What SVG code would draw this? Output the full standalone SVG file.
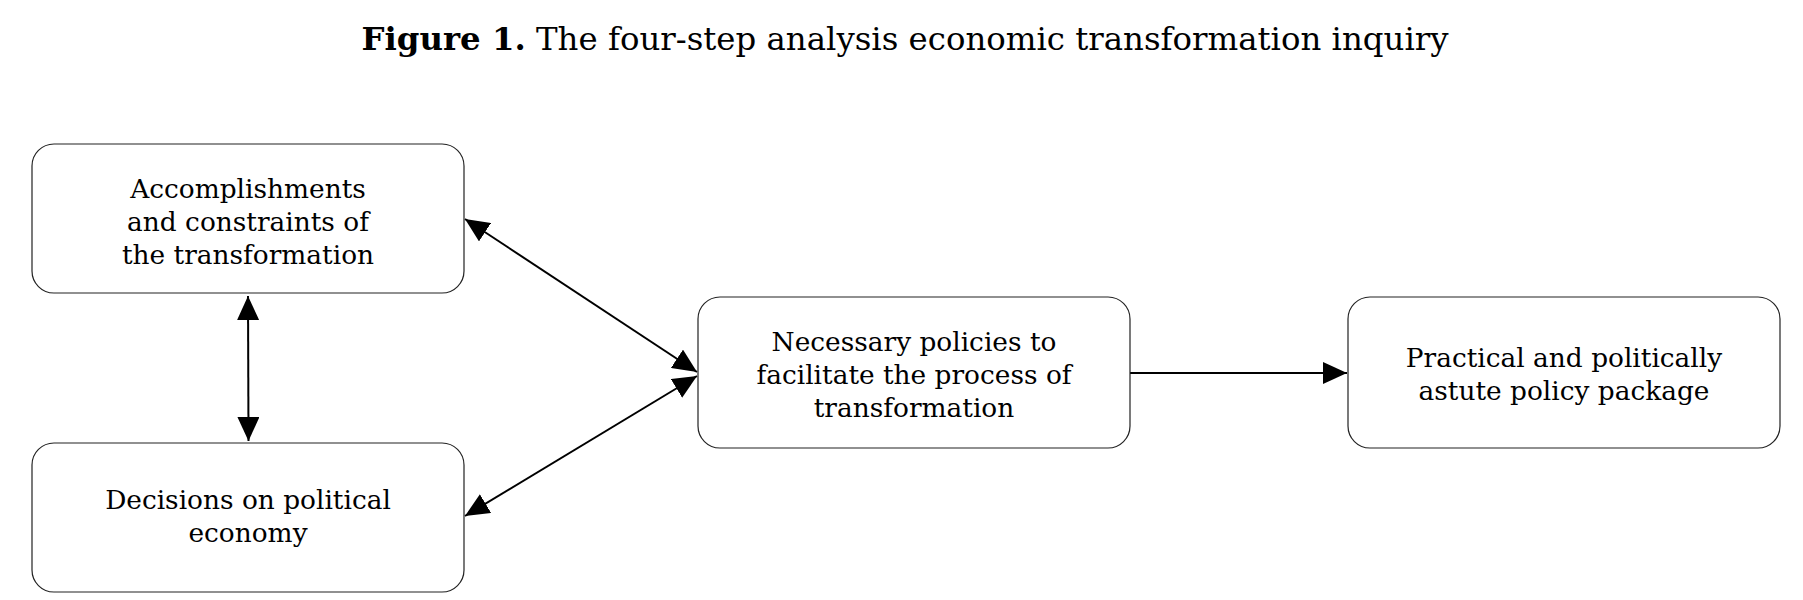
<svg xmlns="http://www.w3.org/2000/svg" width="1803" height="600" viewBox="0 0 1803 600">
<style>
.box{fill:#fff;stroke:#222;stroke-width:1.2}
.t{font-family:"DejaVu Serif","Liberation Serif",serif;font-size:26.4px;fill:#000;text-anchor:middle}
.title{font-family:"DejaVu Serif","Liberation Serif",serif;font-size:32.4px;fill:#000;text-anchor:middle}
.c{stroke:#000;stroke-width:2;fill:none}
</style>
<defs>
<marker id="ah" viewBox="0 0 24 22" refX="24" refY="11" markerWidth="24" markerHeight="22" markerUnits="userSpaceOnUse" orient="auto-start-reverse">
<path d="M0,0 L24,11 L0,22 z" fill="#000"/>
</marker>
</defs>
<rect width="1803" height="600" fill="#fff"/>
<text class="title" x="905" y="50"><tspan font-weight="bold">Figure 1.</tspan> The four-step analysis economic transformation inquiry</text>
<g id="connectors">
<line class="c" x1="248" y1="296" x2="248.5" y2="441" marker-start="url(#ah)" marker-end="url(#ah)"/>
<line class="c" x1="465" y1="219" x2="697" y2="372" marker-start="url(#ah)" marker-end="url(#ah)"/>
<line class="c" x1="465" y1="516" x2="697" y2="376" marker-start="url(#ah)" marker-end="url(#ah)"/>
<line class="c" x1="1130" y1="373" x2="1347" y2="373" marker-end="url(#ah)"/>
</g>
<g id="n1">
<rect class="box" x="32" y="144" width="432" height="149" rx="22"/>
<text class="t" x="248" y="198">Accomplishments</text>
<text class="t" x="248" y="231">and constraints of</text>
<text class="t" x="248" y="264">the transformation</text>
</g>
<g id="n2">
<rect class="box" x="32" y="443" width="432" height="149" rx="22"/>
<text class="t" x="248" y="509">Decisions on political</text>
<text class="t" x="248" y="542">economy</text>
</g>
<g id="n3">
<rect class="box" x="698" y="297" width="432" height="151" rx="22"/>
<text class="t" x="914" y="351">Necessary policies to</text>
<text class="t" x="914" y="384">facilitate the process of</text>
<text class="t" x="914" y="417">transformation</text>
</g>
<g id="n4">
<rect class="box" x="1348" y="297" width="432" height="151" rx="22"/>
<text class="t" x="1564" y="367">Practical and politically</text>
<text class="t" x="1564" y="400">astute policy package</text>
</g>
</svg>
